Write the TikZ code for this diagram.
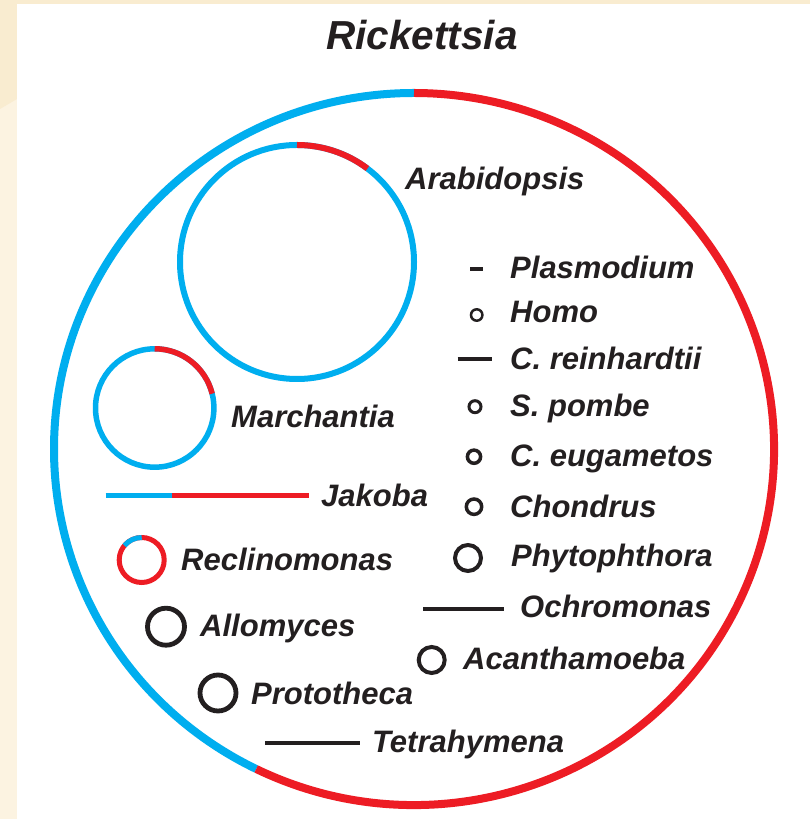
\documentclass[tikz,border=0pt]{standalone}
\usepackage{fontspec}
\setmainfont{Liberation Sans}
\usepackage{tikz}
\usetikzlibrary{positioning}
\usepackage{xcolor}
\definecolor{ricblue}{HTML}{00AEEF}
\definecolor{ricred}{HTML}{ED1C24}
\definecolor{ink}{HTML}{231F20}
\definecolor{cream}{HTML}{FCF3E1}
\definecolor{creamdark}{HTML}{F9ECD0}

\begin{document}
\begin{tikzpicture}[x=1pt,y=1pt,
  taxon/.style={anchor=base west,inner sep=0pt,text=ink,font=\bfseries\itshape\fontsize{31}{36}\selectfont},
  genome/.style={draw=ink,line width=4.8pt}]
\useasboundingbox (0,0) rectangle (810,819);
\fill[cream] (0,0) rectangle (810,819);
\fill[creamdark] (0,819) -- (810,819) -- (810,815) -- (17,815) -- (17,720) -- (0,710) -- cycle;
\fill[white] (17,0) rectangle (810,815);
\node[anchor=base,inner sep=0pt,text=ink,font=\bfseries\itshape\fontsize{40.5}{48}\selectfont] (title) at (422,769) {Rickettsia};
% Rickettsia genome
\draw[ricblue,line width=8pt,shift={(414,370)}] (90:360 and 356) arc[start angle=90,end angle=244,x radius=360,y radius=356];
\draw[ricred,line width=8pt,shift={(414,370)}] (244:360 and 356) arc[start angle=244,end angle=450,x radius=360,y radius=356];
% Arabidopsis
\draw[ricblue,line width=6pt] (297,557) circle[radius=117];
\draw[ricred,line width=6pt,shift={(297,557)}] (53:117) arc[start angle=53,end angle=90,radius=117];
\node[taxon] (arab) at (405,629) {Arabidopsis};
% Marchantia
\draw[ricblue,line width=5.5pt] (154.7,411) circle[radius=59.2];
\draw[ricred,line width=5.5pt,shift={(154.7,411)}] (14:59.2) arc[start angle=14,end angle=90,radius=59.2];
\node[taxon] (march) at (231,391) {Marchantia};
% Jakoba
\draw[ricblue,line width=5pt] (105.5,323.3) -- (172,323.3);
\draw[ricred,line width=5pt] (172,323.3) -- (309,323.3);
\node[taxon] (jakoba) at (321,312) {Jakoba};
% Reclinomonas
\draw[ricred,line width=5pt] (141.7,259) circle[radius=22.5];
\draw[ricblue,line width=5pt,shift={(141.7,259)}] (90:22.5) arc[start angle=90,end angle=140,radius=22.5];
\node[taxon] (reclino) at (181,248) {Reclinomonas};
% Allomyces, Prototheca, Tetrahymena
\draw[genome] (166,192.3) circle[radius=18.5];
\node[taxon] (allo) at (200,182) {Allomyces};
\draw[genome] (218,126) circle[radius=18];
\node[taxon] (proto) at (251,114) {Prototheca};
\draw[genome] (265,76) -- (360,76);
\node[taxon] (tetra) at (372,66) {Tetrahymena};
% right column
\draw[genome,line width=4pt] (470,550) -- (483,550);
\node[taxon] (plasmo) at (510,540) {Plasmodium};
\draw[genome,line width=2.5pt] (476.7,504) circle[radius=5.7];
\node[taxon] (homo) at (510,496) {Homo};
\draw[genome,line width=3.5pt] (457.7,460) -- (491.7,460);
\node[taxon] (creinh) at (510,449) {C. reinhardtii};
\draw[genome,line width=3pt] (475,412.3) circle[radius=6];
\node[taxon] (spombe) at (510,402) {S. pombe};
\draw[genome,line width=3.5pt] (474,362.3) circle[radius=6.6];
\node[taxon] (ceuga) at (510,352) {C. eugametos};
\draw[genome,line width=3.5pt] (474,312.3) circle[radius=7.7];
\node[taxon] (chond) at (510,301) {Chondrus};
\draw[genome,line width=4pt] (468,261) circle[radius=13];
\node[taxon] (phyto) at (511,252) {Phytophthora};
\draw[genome] (423,210) -- (504,210);
\node[taxon] (ochro) at (520,201) {Ochromonas};
\draw[genome,line width=4pt] (431.7,159) circle[radius=13];
\node[taxon] (acanth) at (463,149) {Acanthamoeba};
\end{tikzpicture}
\end{document}
